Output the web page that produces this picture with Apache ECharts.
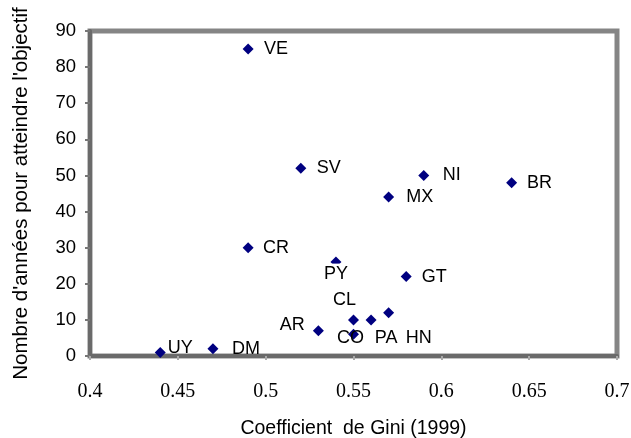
<!DOCTYPE html>
<html>
<head>
<meta charset="utf-8">
<script src="https://cdn.jsdelivr.net/npm/echarts@6/dist/echarts.min.js"></script>
<style>
html,body{margin:0;padding:0;background:#fff;}
#chart{width:631px;height:438px;}
</style>
</head>
<body>
<div id="chart"></div>
<script>
const countries = ['VE','SV','NI','BR','MX','CR','PY','GT','CL','PA','HN','CO','AR','UY','DM'];
const gini = [0.49,0.52,0.59,0.64,0.57,0.49,0.54,0.58,0.55,0.56,0.57,0.55,0.53,0.44,0.47];
const years = [85,52,50,48,44,30,26,22,10,10,12,6,7,1,2];
const xTicks = [0.4,0.45,0.5,0.55,0.6,0.65,0.7];
const yTicks = [0,10,20,30,40,50,60,70,80,90];
const xTitle = 'Coefficient  de Gini (1999)';
const yTitle = "Nombre d'années pour atteindre l'objectif";

// label offsets from marker centre (style only)
const labelOff = {
  VE:[28,0], SV:[28,0], NI:[28,0], BR:[28,0], MX:[31,0], CR:[28,0], GT:[28,0],
  PY:[0,12], CL:[-9,-20], PA:[15,18], HN:[30,25], CO:[-3,4],
  AR:[-26,-6], UY:[20,-4], DM:[33,0]
};
const SYM = 11;

const data = countries.map((c,i)=>({
  value:[gini[i],years[i]],
  name:c,
  label:{
    show:true,formatter:c,color:'#000',fontSize:18,
    fontFamily:'Liberation Sans, Arial, sans-serif',
    position:[SYM/2+labelOff[c][0], SYM/2+labelOff[c][1]],
    align:'center',verticalAlign:'middle',
    textBorderWidth:0,
    backgroundColor: c==='PY' ? '#fff' : 'transparent',
    padding: c==='PY' ? [3,0,0,0] : 0
  }
}));

const chart = echarts.init(document.getElementById('chart'),null,{renderer:'canvas'});
chart.setOption({
  animation:false,
  backgroundColor:'#fff',
  grid:{left:90,right:14,top:31,bottom:82,show:true,borderColor:'#858585',borderWidth:5,backgroundColor:'#fff',
    containLabel:false,outerBoundsMode:'none'},
  xAxis:{
    type:'value',min:0.4,max:0.7,interval:0.05,
    name:xTitle,nameLocation:'middle',nameGap:63,
    nameTextStyle:{fontSize:19.5,color:'#000',fontFamily:'Liberation Sans, Arial, sans-serif'},
    axisLine:{show:true,onZero:false,lineStyle:{color:'#6a6a6a',width:4}},
    axisTick:{show:true,length:4,lineStyle:{color:'#aaa',width:2}},
    axisLabel:{margin:26,fontSize:20,color:'#000',fontFamily:'Liberation Serif, Times New Roman, serif',
      formatter:v=>{const t=xTicks.find(x=>Math.abs(x-v)<1e-9);return t===undefined?'':String(t);}},
    splitLine:{show:false}
  },
  yAxis:{
    type:'value',min:0,max:90,interval:10,
    name:yTitle,nameLocation:'middle',nameGap:58,nameRotate:90,
    nameTextStyle:{fontSize:20.5,color:'#000',fontFamily:'Liberation Sans, Arial, sans-serif'},
    axisLine:{show:true,onZero:false,lineStyle:{color:'#6a6a6a',width:4}},
    axisTick:{show:true,length:5,lineStyle:{color:'#777',width:2}},
    axisLabel:{margin:14,fontSize:18.5,color:'#000',fontFamily:'Liberation Sans, Arial, sans-serif',
      formatter:v=>{const t=yTicks.find(y=>Math.abs(y-v)<1e-9);return t===undefined?'':String(t);}},
    splitLine:{show:false}
  },
  series:[{
    type:'scatter',
    symbol:'diamond',
    symbolSize:SYM,
    itemStyle:{color:'#000080',opacity:1},
    data:data
  }]
});
</script>
</body>
</html>
